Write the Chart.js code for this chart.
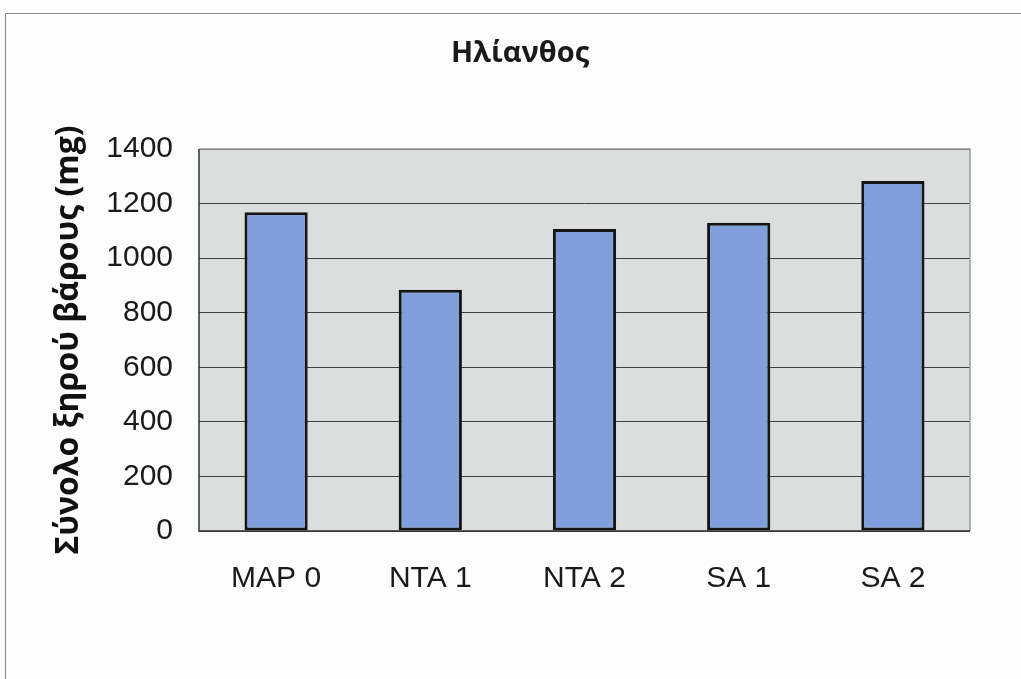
<!DOCTYPE html>
<html>
<head>
<meta charset="utf-8">
<script src="https://cdn.jsdelivr.net/npm/chart.js@4/dist/chart.umd.min.js"></script>
<style>
html,body{margin:0;padding:0;background:#fdfdfd;}
#wrap{position:relative;width:1021px;height:679px;}
</style>
</head>
<body>
<div id="wrap"><canvas id="c" width="1021" height="679"></canvas></div>
<script>
const categories = ["MAP 0", "NTA 1", "NTA 2", "SA 1", "SA 2"];
const dryWeight = [1168, 884, 1107, 1130, 1283];
const yTicks = [0, 200, 400, 600, 800, 1000, 1200, 1400];
const chartTitle = "Ηλίανθος";
const yTitle = "Σύνολο ξηρού βάρους (mg)";

const AREA = {left: 199, top: 149, right: 970, bottom: 531};
const TITLE_SIZE = 29, YTITLE_SIZE = 32;

const frame = {
  id: 'frame',
  beforeDraw(chart) {
    const c = chart.ctx;
    c.save();
    c.fillStyle = '#fdfdfd';
    c.fillRect(0, 0, chart.width, chart.height);
    c.strokeStyle = '#8a8a8a';
    c.lineWidth = 1.2;
    c.beginPath();
    c.moveTo(5.5, chart.height);
    c.lineTo(5.5, 13.5);
    c.lineTo(chart.width, 13.5);
    c.stroke();
    const a = chart.chartArea;
    c.fillStyle = '#dcdedd';
    c.fillRect(a.left, a.top, a.right - a.left, a.bottom - a.top);
    c.restore();
  },
  afterDatasetsDraw(chart) {
    const c = chart.ctx, a = chart.chartArea;
    c.save();
    c.strokeStyle = '#9a9a9a';
    c.lineWidth = 1.5;
    c.beginPath();
    c.moveTo(a.left, a.top);
    c.lineTo(a.right, a.top);
    c.lineTo(a.right, a.bottom);
    c.stroke();
    c.strokeStyle = '#333';
    c.beginPath();
    c.moveTo(a.left, a.top);
    c.lineTo(a.left, a.bottom);
    c.lineTo(a.right, a.bottom);
    c.stroke();
    c.restore();
  },
  afterDraw(chart) {
    const c = chart.ctx;
    c.save();
    c.fillStyle = '#1a1a1a';
    c.font = 'bold ' + TITLE_SIZE + 'px "Open Sans"';
    c.textAlign = 'center';
    c.textBaseline = 'middle';
    c.fillText(chartTitle, 520, 54);
    c.restore();
  }
};

new Chart(document.getElementById('c'), {
  type: 'bar',
  data: {
    labels: categories,
    datasets: [{
      data: dryWeight,
      backgroundColor: '#809fdc',
      borderColor: '#151515',
      borderWidth: 3,
      borderSkipped: false,
      categoryPercentage: 1,
      barPercentage: 0.41
    }]
  },
  options: {
    responsive: false,
    animation: false,
    devicePixelRatio: 1,
    layout: {padding: {left: 0, right: 1021 - AREA.right, top: AREA.top, bottom: 0}},
    plugins: {
      legend: {display: false},
      tooltip: {enabled: false},
      title: {display: false}
    },
    scales: {
      x: {
        grid: {display: false, drawTicks: false},
        border: {display: false},
        ticks: {color: '#1a1a1a', font: {family: 'Liberation Sans', size: 30}, padding: 30},
        afterFit(s) { s.height = 679 - AREA.bottom; }
      },
      y: {
        min: 0, max: 1400,
        afterBuildTicks(s) { s.ticks = yTicks.map(v => ({value: v})); },
        grid: {color: '#404040', lineWidth: 1, drawTicks: false},
        border: {display: false},
        ticks: {
          color: '#1a1a1a', font: {family: 'Liberation Sans', size: 30}, padding: 26,
          callback: v => String(v)
        },
        title: {
          display: true,
          text: yTitle,
          color: '#111',
          font: {family: 'Open Sans', size: YTITLE_SIZE, weight: 'bold', lineHeight: 1.2},
          padding: {top: 69 - YTITLE_SIZE * 0.6, bottom: 0}
        },
        afterFit(s) { s.width = AREA.left; }
      }
    }
  },
  plugins: [frame]
});
</script>
</body>
</html>
